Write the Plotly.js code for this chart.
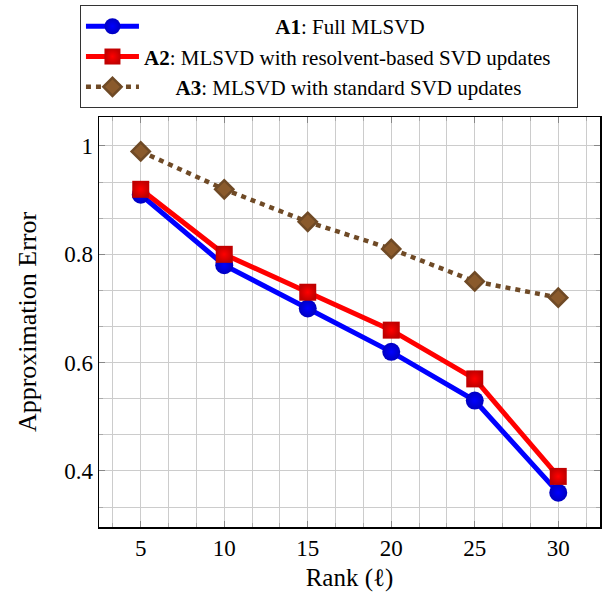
<!DOCTYPE html>
<html>
<head>
<meta charset="utf-8">
<script src="https://cdn.plot.ly/plotly-3.0.1.min.js"></script>
<style>html,body{margin:0;padding:0;background:#fff;}</style>
</head>
<body>
<div id="chart" style="width:605px;height:595px;"></div>
<script>
const ranks = [5, 10, 15, 20, 25, 30];
const errA1 = [0.91, 0.78, 0.70, 0.62, 0.53, 0.36];
const errA2 = [0.92, 0.80, 0.73, 0.66, 0.57, 0.39];
const errA3 = [0.99, 0.92, 0.86, 0.81, 0.75, 0.72];
const nameA1 = '<b>A1</b>: Full MLSVD';
const nameA2 = '<b>A2</b>: MLSVD with resolvent-based SVD updates';
const nameA3 = '<b>A3</b>: MLSVD with standard SVD updates';
const xTickVals = [5, 10, 15, 20, 25, 30];
const yTickVals = [0.4, 0.6, 0.8, 1];
const yTickText = ['0.4', '0.6', '0.8', '1'];

const pad = n => '\u00a0'.repeat(n);
const serif = 'Liberation Serif, Times New Roman, serif';

const traces = [
  {
    x: ranks, y: errA1, name: pad(25) + nameA1, type: 'scatter', mode: 'lines+markers',
    line: {color: '#0000ff', width: 5},
    marker: {symbol: 'circle', size: 18, color: '#0000c0', gradient: {type: 'radial', color: '#0000ff'}, line: {width: 0}}
  },
  {
    x: ranks, y: errA2, name: nameA2 + pad(4), type: 'scatter', mode: 'lines+markers',
    line: {color: '#ff0000', width: 5},
    marker: {symbol: 'square', size: 17, color: '#c00000', gradient: {type: 'radial', color: '#ff0000'}, line: {width: 0}}
  },
  {
    x: ranks, y: errA3, name: pad(6) + nameA3, type: 'scatter', mode: 'lines+markers',
    line: {color: '#6f4a26', width: 4.5, dash: '5px,5px'},
    marker: {symbol: 'diamond', size: 14, color: '#8a5a2c', line: {width: 2.5, color: '#6f4a26'}}
  }
];

const layout = {
  width: 605, height: 595,
  margin: {l: 99, r: 5, t: 117, b: 68},
  paper_bgcolor: '#ffffff', plot_bgcolor: '#ffffff',
  font: {family: serif, size: 22, color: '#000'},
  showlegend: true,
  legend: {
    x: -0.038, xanchor: 'left', y: 1.273, yanchor: 'top',
    bordercolor: '#333', borderwidth: 1, bgcolor: '#fff',
    font: {family: serif, size: 21, color: '#000'},
    itemwidth: 53, tracegroupgap: 0
  },
  xaxis: {
    range: [2.5, 32.5],
    tickvals: xTickVals, ticktext: xTickVals.map(String),
    ticks: 'inside', ticklen: 6, tickcolor: '#888', tickwidth: 1,
    showline: true, linecolor: '#000', linewidth: 1.5, mirror: 'ticks',
    showgrid: true, gridcolor: '#cccccc', gridwidth: 1,
    minor: {dtick: 5/3, tick0: 0, showgrid: true, gridcolor: '#cccccc', gridwidth: 1, ticks: 'inside', ticklen: 4, tickcolor: '#aaa'},
    zeroline: false,
    tickfont: {family: serif, size: 23},
    title: {text: 'Rank (ℓ)', font: {family: serif, size: 25}, standoff: 8}
  },
  yaxis: {
    range: [0.2966, 1.0535],
    tickvals: yTickVals, ticktext: yTickText,
    ticks: 'inside', ticklen: 6, tickcolor: '#888', tickwidth: 1,
    showline: true, linecolor: '#000', linewidth: 1.5, mirror: 'ticks',
    showgrid: true, gridcolor: '#cccccc', gridwidth: 1,
    minor: {dtick: 0.2/3, tick0: 0, showgrid: true, gridcolor: '#cccccc', gridwidth: 1, ticks: 'inside', ticklen: 4, tickcolor: '#aaa'},
    zeroline: false,
    tickfont: {family: serif, size: 23},
    title: {text: 'Approximation Error', font: {family: serif, size: 26}, standoff: 20}
  }
};

Plotly.newPlot('chart', traces, layout, {displayModeBar: false, staticPlot: true});
</script>
</body>
</html>
